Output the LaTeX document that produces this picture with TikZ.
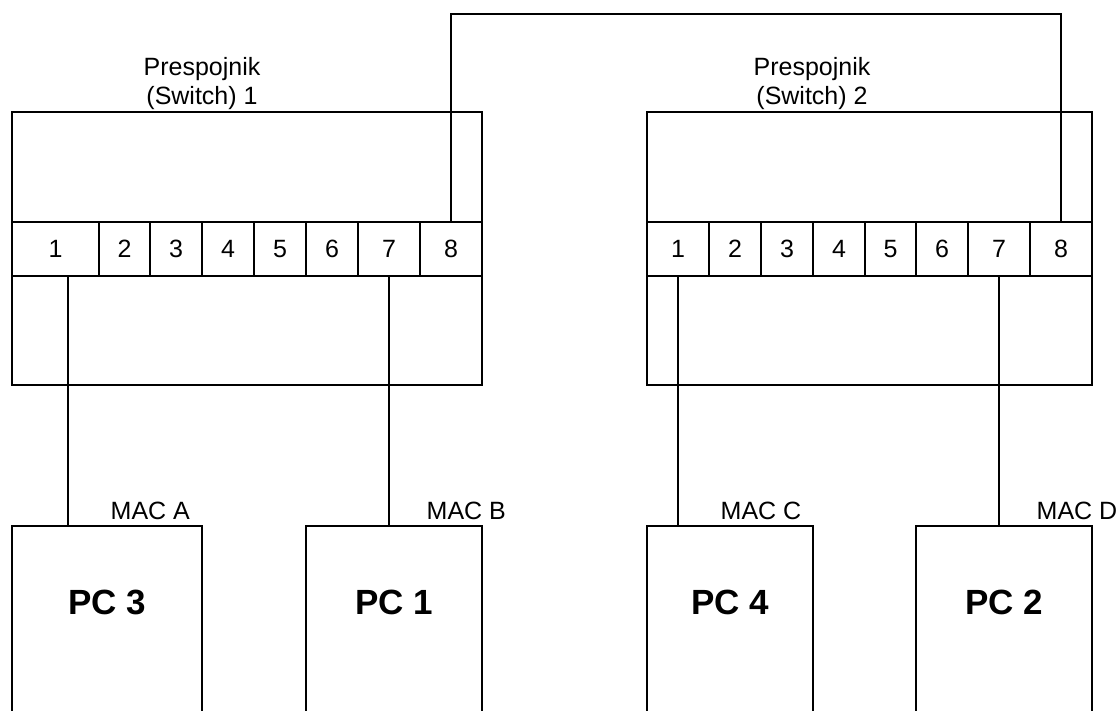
\documentclass[tikz,border=0pt]{standalone}
\usepackage{fontspec}
\setmainfont{Liberation Sans}
\begin{document}
\begin{tikzpicture}[x=1pt,y=-1pt,line width=1.4pt,
  box/.style={draw,rectangle,inner sep=0pt,outer sep=0pt,anchor=north west},
  port/.style={draw,rectangle,inner sep=0pt,outer sep=0pt,minimum height=54pt,font=\fontsize{25}{30}\selectfont},
  lbl/.style={inner sep=0pt,font=\fontsize{25}{30}\selectfont},
  pclbl/.style={inner sep=0pt,font=\fontsize{35}{42}\selectfont\bfseries},
  wire/.style={draw,line width=1.4pt}]
\useasboundingbox (0,0) rectangle (1120,711);
\clip (0,0) rectangle (1120,711);
% switches
\node[box,minimum width=470pt,minimum height=273pt] (sw1) at (12,112) {};
\node[box,minimum width=445pt,minimum height=273pt] (sw2) at (647,112) {};
\foreach \i/\a/\b in {1/12/99,2/99/150,3/150/202,4/202/254,5/254/306,6/306/358,7/358/420,8/420/482}
  \node[port,minimum width={(\b-\a)*1pt}] (s1p\i) at ({(\a+\b)/2},249) {\i};
\foreach \i/\a/\b in {1/647/709,2/709/761,3/761/813,4/813/865,5/865/916,6/916/968,7/968/1030,8/1030/1092}
  \node[port,minimum width={(\b-\a)*1pt}] (s2p\i) at ({(\a+\b)/2},249) {\i};
% titles
\node[lbl,anchor=base] (t1a) at (202,76) {Prespojnik};
\node[lbl,anchor=base] (t1b) at (202,105) {(Switch) 1};
\node[lbl,anchor=base] (t2a) at (812,76) {Prespojnik};
\node[lbl,anchor=base] (t2b) at (812,105) {(Switch) 2};
% PCs
\node[box,minimum width=190pt,minimum height=230pt] (pc3) at (12,526) {};
\node[box,minimum width=176pt,minimum height=230pt] (pc1) at (306,526) {};
\node[box,minimum width=166pt,minimum height=230pt] (pc4) at (647,526) {};
\node[box,minimum width=176pt,minimum height=230pt] (pc2) at (916,526) {};
\node[pclbl] (pc3t) at ([yshift=-76pt]pc3.north) {PC 3};
\node[pclbl] (pc1t) at ([yshift=-76pt]pc1.north) {PC 1};
\node[pclbl] (pc4t) at ([yshift=-76pt]pc4.north) {PC 4};
\node[pclbl] (pc2t) at ([yshift=-76pt]pc2.north) {PC 2};
% MAC labels
\node[lbl,anchor=base west] (maca) at (110,519) {MAC A};
\node[lbl,anchor=base west] (macb) at (426,519) {MAC B};
\node[lbl,anchor=base west] (macc) at (720,519) {MAC C};
\node[lbl,anchor=base west] (macd) at (1036,519) {MAC D};
% wires
\coordinate (c1) at ([xshift=12.5pt]s1p1.south);
\draw[wire] (c1) -- (c1 |- pc3.north);
\draw[wire] (s1p7.south) -- (s1p7.south |- pc1.north);
\draw[wire] (s2p1.south) -- (s2p1.south |- pc4.north);
\draw[wire] (s2p7.south) -- (s2p7.south |- pc2.north);
\coordinate (top) at (0,14);
\draw[wire] (s1p8.north) |- (top -| s2p8.north) -- (s2p8.north);
\end{tikzpicture}
\end{document}
